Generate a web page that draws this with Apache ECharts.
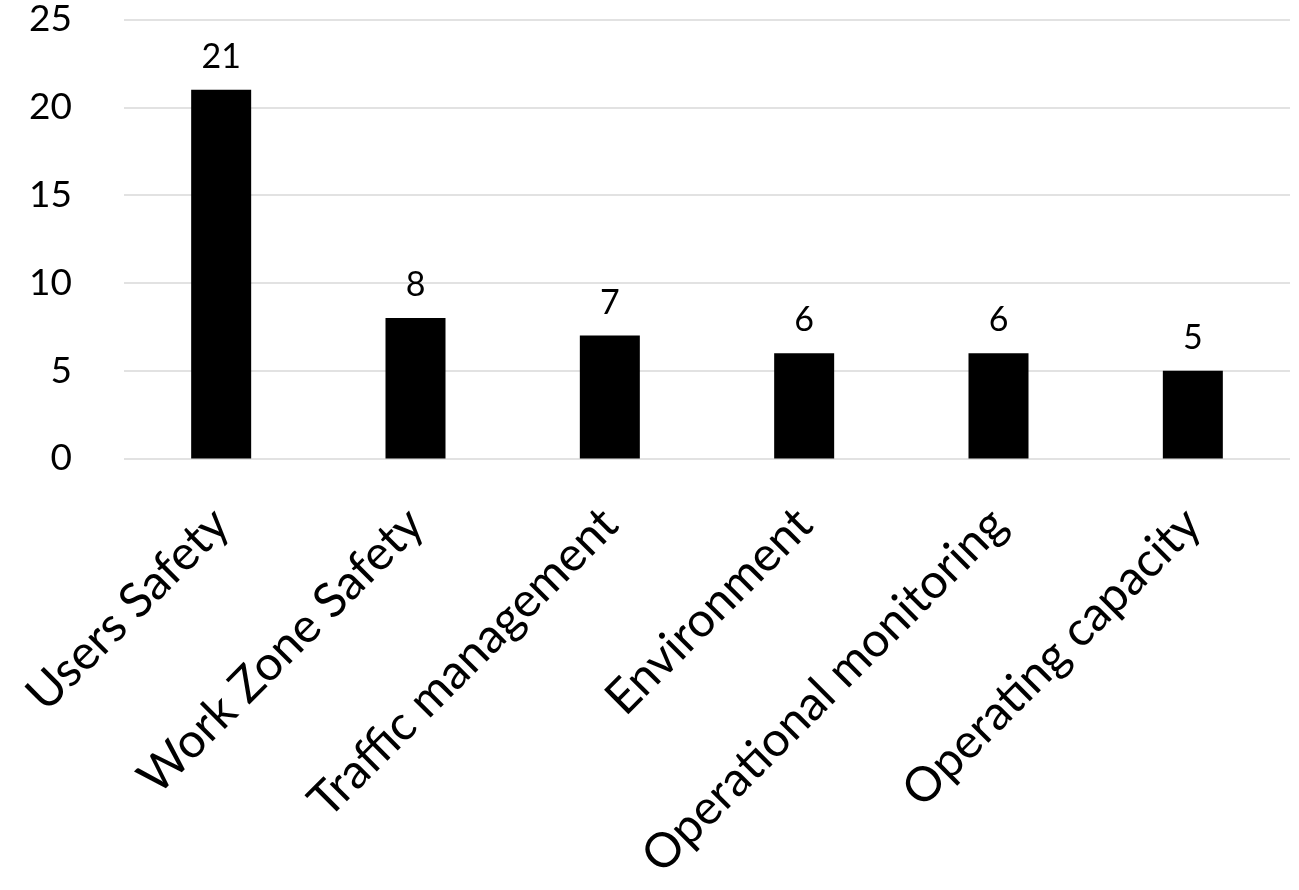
<!DOCTYPE html>
<html>
<head>
<meta charset="utf-8">
<style>
  html, body { margin: 0; padding: 0; background: #fff; }
  #chart { width: 1299px; height: 890px; }
</style>
<script src="https://cdn.jsdelivr.net/npm/echarts@6/dist/echarts.min.js"></script>
</head>
<body>
<div id="chart"></div>
<script>
// Number of items per category
const categories = ['Users Safety', 'Work Zone Safety', 'Traffic management', 'Environment', 'Operational monitoring', 'Operating capacity'];
const counts = [21, 8, 7, 6, 6, 5];
const yTicks = { min: 0, max: 25, interval: 5 };

const FONT = 'Lato, "Open Sans", sans-serif';

const chart = echarts.init(document.getElementById('chart'));
chart.setOption({
  animation: false,
  grid: { left: 124, right: 9, top: 19.5, bottom: 431.5, containLabel: false },
  xAxis: {
    type: 'category',
    data: categories,
    axisLine: { show: false },
    axisTick: { show: false },
    axisLabel: {
      rotate: 45,
      interval: 0,
      margin: 58,
      color: '#000',
      fontSize: 48,
      fontFamily: FONT
    }
  },
  yAxis: {
    type: 'value',
    min: yTicks.min,
    max: yTicks.max,
    interval: yTicks.interval,
    axisLine: { show: false },
    axisTick: { show: false },
    axisLabel: {
      color: '#000',
      fontSize: 37,
      fontFamily: FONT,
      margin: 52,
      padding: [10, 0, 0, 0]
    },
    splitLine: { lineStyle: { color: '#d9d9d9', width: 1.5 } }
  },
  series: [{
    type: 'bar',
    data: counts,
    barWidth: 60,
    itemStyle: { color: '#000' },
    label: {
      show: true,
      position: 'top',
      distance: 16,
      color: '#000',
      fontSize: 34,
      fontFamily: FONT
    }
  }]
});
</script>
</body>
</html>
